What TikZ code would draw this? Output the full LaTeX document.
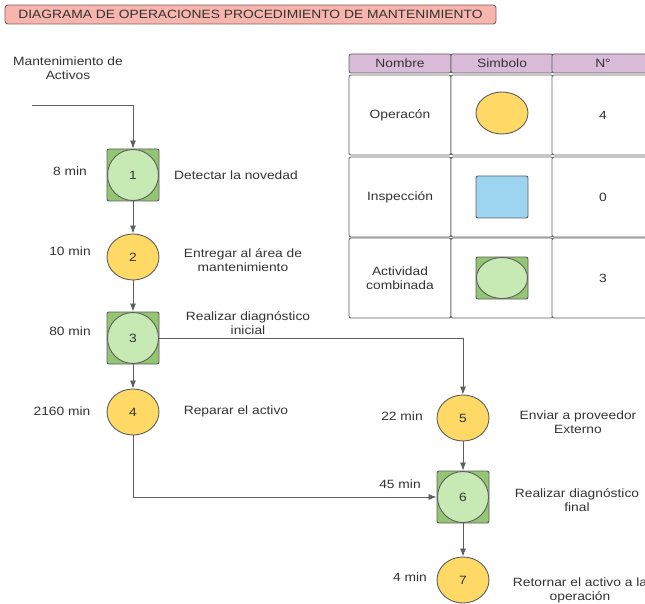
\documentclass[tikz,border=0pt]{standalone}
\usepackage{fontspec}
\setmainfont[FakeStretch=1.15]{Liberation Sans}
\usetikzlibrary{arrows.meta,shapes.geometric,calc}
\definecolor{edgegray}{HTML}{5E5E5E}
\definecolor{txtgray}{HTML}{333333}
\definecolor{opyellow}{HTML}{FFD966}
\definecolor{combgreen}{HTML}{93C572}
\definecolor{lightgreen}{HTML}{C7E9B4}
\definecolor{inspblue}{HTML}{9DD4F0}
\definecolor{titlepink}{HTML}{F7B5AD}
\definecolor{titleedge}{HTML}{7A6360}
\definecolor{headlilac}{HTML}{D9BAD9}
\begin{document}
\begin{tikzpicture}[x=1pt,y=-1pt,inner sep=0,arrows=-{Latex[length=8pt,width=6pt]},
	every node/.style={text=txtgray,align=center,font=\fontsize{12}{14}\selectfont},
	flow/.style={draw=edgegray,line width=0.8pt},
	oper/.style={ellipse,draw=edgegray,line width=0.9pt,fill=opyellow,minimum width=52pt,minimum height=46pt},
	insp/.style={draw=edgegray,line width=0.9pt,fill=inspblue,rounded corners=2pt,minimum width=52pt,minimum height=42pt},
	combi/.style={draw=edgegray,line width=0.9pt,fill=combgreen,rounded corners=2pt,minimum width=52pt,minimum height=52pt,
		path picture={\draw[edgegray,line width=0.9pt,fill=lightgreen]
			let \p1=(path picture bounding box.north east),\p2=(path picture bounding box.center)
			in (\p2) ellipse ({\x1-\x2-0.5pt} and {\y1-\y2-0.5pt});}},
	head/.style={draw=edgegray,line width=0.8pt,fill=headlilac,rounded corners=2pt,minimum width=102pt,minimum height=19pt},
	cell/.style={draw=edgegray,line width=0.8pt,fill=white,rounded corners=2pt,minimum width=102pt,minimum height=80pt}]
	\useasboundingbox (0,0) rectangle (645,604);
	% titulo
	\node[draw=titleedge,line width=0.9pt,fill=titlepink,rounded corners=3pt,minimum width=491pt,minimum height=19pt] (title) at (250.5,14.5) {DIAGRAMA DE OPERACIONES PROCEDIMIENTO DE MANTENIMIENTO};
	% tabla
	\node[head] (h1) at (400,63.5) {Nombre};
	\node[head] (h2) at (502,63.5) {Simbolo};
	\node[head] (h3) at (603,63.5) {N°};
	\node[cell] (c11) at (400,115) {Operacón};
	\node[cell] (c12) at (502,115) {};
	\node[cell] (c13) at (603,115) {4};
	\node[cell] (c21) at (400,197) {Inspección};
	\node[cell] (c22) at (502,197) {};
	\node[cell] (c23) at (603,197) {0};
	\node[cell] (c31) at (400,278) {Actividad\\combinada};
	\node[cell] (c32) at (502,278) {};
	\node[cell] (c33) at (603,278) {3};
	\node[oper,minimum height=42pt] (s1) at (502,113) {};
	\node[insp] (s2) at (502,197) {};
	\node[combi,minimum height=42pt] (s3) at (502,278) {};
	% diagrama
	\node (inicio) at (68,68) {Mantenimiento de\\Activos};
	\coordinate (start) at (32,105);
	\node[combi] (n1) at (133,175) {1};
	\node[oper] (n2) at (133,257) {2};
	\node[combi] (n3) at (133,338) {3};
	\node[oper] (n4) at (133,412) {4};
	\node[oper] (n5) at (463,418) {5};
	\node[combi] (n6) at (463,497) {6};
	\node[oper] (n7) at (463,580) {7};
	\node (t1) at (70,171) {8 min};
	\node (t2) at (70,251) {10 min};
	\node (t3) at (70,331) {80 min};
	\node (t4) at (62,411) {2160 min};
	\node (t5) at (402,416) {22 min};
	\node (t6) at (400,484) {45 min};
	\node (t7) at (410,577) {4 min};
	\node (d1) at (236,175) {Detectar la novedad};
	\node (d2) at (243,260) {Entregar al área de\\mantenimiento};
	\node (d3) at (248,323) {Realizar diagnóstico\\inicial};
	\node (d4) at (236,411) {Reparar el activo};
	\node (d5) at (578,422) {Enviar a proveedor\\Externo};
	\node (d6) at (577,500) {Realizar diagnóstico\\final};
	\node (d7) at (580,590) {Retornar el activo a la\\operación};
	\draw[flow] (start) -| (n1);
	\draw[flow] (n1) -- (n2);
	\draw[flow] (n2) -- (n3);
	\draw[flow] (n3) -- (n4);
	\draw[flow] (n3) -| (n5);
	\draw[flow] (n4) |- (n6);
	\draw[flow] (n5) -- (n6);
	\draw[flow] (n6) -- (n7);
\end{tikzpicture}
\end{document}
